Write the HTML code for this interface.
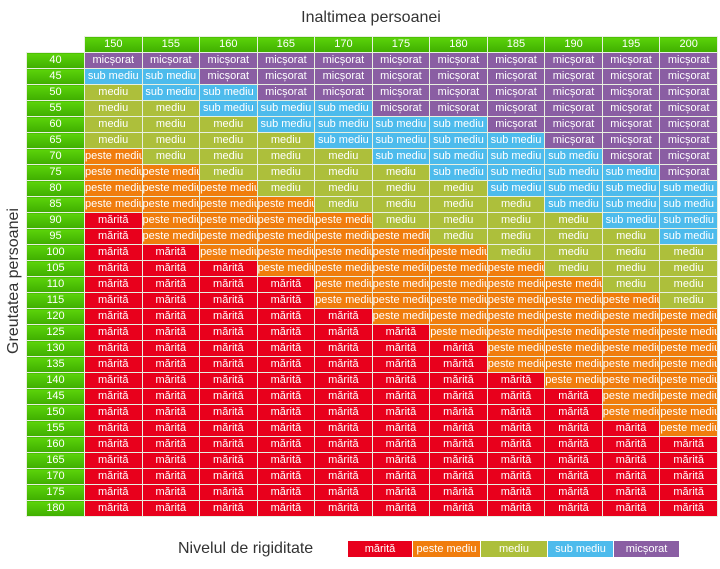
<!DOCTYPE html>
<html><head><meta charset="utf-8"><style>
body{margin:0;width:720px;height:569px;background:#fff;font-family:"Liberation Sans",sans-serif;position:relative;overflow:hidden}
.t{position:absolute;color:#333;font-size:16px}
table{position:absolute;left:26px;top:36px;border-collapse:collapse;table-layout:fixed;width:692px}
td{height:15px;padding:0;border:1px solid #e8f0e0;color:#fff;font-size:11px;text-align:center;white-space:nowrap;overflow:hidden;line-height:15px}
col.a{width:58px}
.h td{background:linear-gradient(#5cd40a,#3fae00);color:#fff}
.h td.e{background:#fff;border-top-color:#fff;border-left-color:#fff}
td.l{background:linear-gradient(#5cd40a,#3fae00)}
.r{background:#e8001c}.o{background:#f07d0d}.m{background:#adbf3b}.s{background:#4dbbec}.p{background:#8a5ea3}
.lg{position:absolute;top:541px;height:16px;line-height:16px;color:#fff;font-size:11px;text-align:center}
</style></head><body>
<div class="t" style="left:0;width:742px;top:9px;text-align:center">Inaltimea persoanei</div>
<div class="t" style="left:-86px;top:272px;width:200px;text-align:center;transform:rotate(-90deg)">Greutatea persoanei</div>
<div class="t" style="left:178px;top:540px">Nivelul de rigiditate</div>
<div class="lg r" style="left:348px;width:64px">mărită</div>
<div class="lg o" style="left:413px;width:67px">peste mediu</div>
<div class="lg m" style="left:481px;width:66px">mediu</div>
<div class="lg s" style="left:548px;width:65px">sub mediu</div>
<div class="lg p" style="left:614px;width:65px">micșorat</div>
<table><colgroup><col class="a"><col><col><col><col><col><col><col><col><col><col><col></colgroup>
<tr class="h"><td class="e"></td><td>150</td><td>155</td><td>160</td><td>165</td><td>170</td><td>175</td><td>180</td><td>185</td><td>190</td><td>195</td><td>200</td></tr>
<tr><td class="l">40</td><td class="p">micșorat</td><td class="p">micșorat</td><td class="p">micșorat</td><td class="p">micșorat</td><td class="p">micșorat</td><td class="p">micșorat</td><td class="p">micșorat</td><td class="p">micșorat</td><td class="p">micșorat</td><td class="p">micșorat</td><td class="p">micșorat</td></tr>
<tr><td class="l">45</td><td class="s">sub mediu</td><td class="s">sub mediu</td><td class="p">micșorat</td><td class="p">micșorat</td><td class="p">micșorat</td><td class="p">micșorat</td><td class="p">micșorat</td><td class="p">micșorat</td><td class="p">micșorat</td><td class="p">micșorat</td><td class="p">micșorat</td></tr>
<tr><td class="l">50</td><td class="m">mediu</td><td class="s">sub mediu</td><td class="s">sub mediu</td><td class="p">micșorat</td><td class="p">micșorat</td><td class="p">micșorat</td><td class="p">micșorat</td><td class="p">micșorat</td><td class="p">micșorat</td><td class="p">micșorat</td><td class="p">micșorat</td></tr>
<tr><td class="l">55</td><td class="m">mediu</td><td class="m">mediu</td><td class="s">sub mediu</td><td class="s">sub mediu</td><td class="s">sub mediu</td><td class="p">micșorat</td><td class="p">micșorat</td><td class="p">micșorat</td><td class="p">micșorat</td><td class="p">micșorat</td><td class="p">micșorat</td></tr>
<tr><td class="l">60</td><td class="m">mediu</td><td class="m">mediu</td><td class="m">mediu</td><td class="s">sub mediu</td><td class="s">sub mediu</td><td class="s">sub mediu</td><td class="s">sub mediu</td><td class="p">micșorat</td><td class="p">micșorat</td><td class="p">micșorat</td><td class="p">micșorat</td></tr>
<tr><td class="l">65</td><td class="m">mediu</td><td class="m">mediu</td><td class="m">mediu</td><td class="m">mediu</td><td class="s">sub mediu</td><td class="s">sub mediu</td><td class="s">sub mediu</td><td class="s">sub mediu</td><td class="p">micșorat</td><td class="p">micșorat</td><td class="p">micșorat</td></tr>
<tr><td class="l">70</td><td class="o">peste mediu</td><td class="m">mediu</td><td class="m">mediu</td><td class="m">mediu</td><td class="m">mediu</td><td class="s">sub mediu</td><td class="s">sub mediu</td><td class="s">sub mediu</td><td class="s">sub mediu</td><td class="p">micșorat</td><td class="p">micșorat</td></tr>
<tr><td class="l">75</td><td class="o">peste mediu</td><td class="o">peste mediu</td><td class="m">mediu</td><td class="m">mediu</td><td class="m">mediu</td><td class="m">mediu</td><td class="s">sub mediu</td><td class="s">sub mediu</td><td class="s">sub mediu</td><td class="s">sub mediu</td><td class="p">micșorat</td></tr>
<tr><td class="l">80</td><td class="o">peste mediu</td><td class="o">peste mediu</td><td class="o">peste mediu</td><td class="m">mediu</td><td class="m">mediu</td><td class="m">mediu</td><td class="m">mediu</td><td class="s">sub mediu</td><td class="s">sub mediu</td><td class="s">sub mediu</td><td class="s">sub mediu</td></tr>
<tr><td class="l">85</td><td class="o">peste mediu</td><td class="o">peste mediu</td><td class="o">peste mediu</td><td class="o">peste mediu</td><td class="m">mediu</td><td class="m">mediu</td><td class="m">mediu</td><td class="m">mediu</td><td class="s">sub mediu</td><td class="s">sub mediu</td><td class="s">sub mediu</td></tr>
<tr><td class="l">90</td><td class="r">mărită</td><td class="o">peste mediu</td><td class="o">peste mediu</td><td class="o">peste mediu</td><td class="o">peste mediu</td><td class="m">mediu</td><td class="m">mediu</td><td class="m">mediu</td><td class="m">mediu</td><td class="s">sub mediu</td><td class="s">sub mediu</td></tr>
<tr><td class="l">95</td><td class="r">mărită</td><td class="o">peste mediu</td><td class="o">peste mediu</td><td class="o">peste mediu</td><td class="o">peste mediu</td><td class="o">peste mediu</td><td class="m">mediu</td><td class="m">mediu</td><td class="m">mediu</td><td class="m">mediu</td><td class="s">sub mediu</td></tr>
<tr><td class="l">100</td><td class="r">mărită</td><td class="r">mărită</td><td class="o">peste mediu</td><td class="o">peste mediu</td><td class="o">peste mediu</td><td class="o">peste mediu</td><td class="o">peste mediu</td><td class="m">mediu</td><td class="m">mediu</td><td class="m">mediu</td><td class="m">mediu</td></tr>
<tr><td class="l">105</td><td class="r">mărită</td><td class="r">mărită</td><td class="r">mărită</td><td class="o">peste mediu</td><td class="o">peste mediu</td><td class="o">peste mediu</td><td class="o">peste mediu</td><td class="o">peste mediu</td><td class="m">mediu</td><td class="m">mediu</td><td class="m">mediu</td></tr>
<tr><td class="l">110</td><td class="r">mărită</td><td class="r">mărită</td><td class="r">mărită</td><td class="r">mărită</td><td class="o">peste mediu</td><td class="o">peste mediu</td><td class="o">peste mediu</td><td class="o">peste mediu</td><td class="o">peste mediu</td><td class="m">mediu</td><td class="m">mediu</td></tr>
<tr><td class="l">115</td><td class="r">mărită</td><td class="r">mărită</td><td class="r">mărită</td><td class="r">mărită</td><td class="o">peste mediu</td><td class="o">peste mediu</td><td class="o">peste mediu</td><td class="o">peste mediu</td><td class="o">peste mediu</td><td class="o">peste mediu</td><td class="m">mediu</td></tr>
<tr><td class="l">120</td><td class="r">mărită</td><td class="r">mărită</td><td class="r">mărită</td><td class="r">mărită</td><td class="r">mărită</td><td class="o">peste mediu</td><td class="o">peste mediu</td><td class="o">peste mediu</td><td class="o">peste mediu</td><td class="o">peste mediu</td><td class="o">peste mediu</td></tr>
<tr><td class="l">125</td><td class="r">mărită</td><td class="r">mărită</td><td class="r">mărită</td><td class="r">mărită</td><td class="r">mărită</td><td class="r">mărită</td><td class="o">peste mediu</td><td class="o">peste mediu</td><td class="o">peste mediu</td><td class="o">peste mediu</td><td class="o">peste mediu</td></tr>
<tr><td class="l">130</td><td class="r">mărită</td><td class="r">mărită</td><td class="r">mărită</td><td class="r">mărită</td><td class="r">mărită</td><td class="r">mărită</td><td class="r">mărită</td><td class="o">peste mediu</td><td class="o">peste mediu</td><td class="o">peste mediu</td><td class="o">peste mediu</td></tr>
<tr><td class="l">135</td><td class="r">mărită</td><td class="r">mărită</td><td class="r">mărită</td><td class="r">mărită</td><td class="r">mărită</td><td class="r">mărită</td><td class="r">mărită</td><td class="o">peste mediu</td><td class="o">peste mediu</td><td class="o">peste mediu</td><td class="o">peste mediu</td></tr>
<tr><td class="l">140</td><td class="r">mărită</td><td class="r">mărită</td><td class="r">mărită</td><td class="r">mărită</td><td class="r">mărită</td><td class="r">mărită</td><td class="r">mărită</td><td class="r">mărită</td><td class="o">peste mediu</td><td class="o">peste mediu</td><td class="o">peste mediu</td></tr>
<tr><td class="l">145</td><td class="r">mărită</td><td class="r">mărită</td><td class="r">mărită</td><td class="r">mărită</td><td class="r">mărită</td><td class="r">mărită</td><td class="r">mărită</td><td class="r">mărită</td><td class="r">mărită</td><td class="o">peste mediu</td><td class="o">peste mediu</td></tr>
<tr><td class="l">150</td><td class="r">mărită</td><td class="r">mărită</td><td class="r">mărită</td><td class="r">mărită</td><td class="r">mărită</td><td class="r">mărită</td><td class="r">mărită</td><td class="r">mărită</td><td class="r">mărită</td><td class="o">peste mediu</td><td class="o">peste mediu</td></tr>
<tr><td class="l">155</td><td class="r">mărită</td><td class="r">mărită</td><td class="r">mărită</td><td class="r">mărită</td><td class="r">mărită</td><td class="r">mărită</td><td class="r">mărită</td><td class="r">mărită</td><td class="r">mărită</td><td class="r">mărită</td><td class="o">peste mediu</td></tr>
<tr><td class="l">160</td><td class="r">mărită</td><td class="r">mărită</td><td class="r">mărită</td><td class="r">mărită</td><td class="r">mărită</td><td class="r">mărită</td><td class="r">mărită</td><td class="r">mărită</td><td class="r">mărită</td><td class="r">mărită</td><td class="r">mărită</td></tr>
<tr><td class="l">165</td><td class="r">mărită</td><td class="r">mărită</td><td class="r">mărită</td><td class="r">mărită</td><td class="r">mărită</td><td class="r">mărită</td><td class="r">mărită</td><td class="r">mărită</td><td class="r">mărită</td><td class="r">mărită</td><td class="r">mărită</td></tr>
<tr><td class="l">170</td><td class="r">mărită</td><td class="r">mărită</td><td class="r">mărită</td><td class="r">mărită</td><td class="r">mărită</td><td class="r">mărită</td><td class="r">mărită</td><td class="r">mărită</td><td class="r">mărită</td><td class="r">mărită</td><td class="r">mărită</td></tr>
<tr><td class="l">175</td><td class="r">mărită</td><td class="r">mărită</td><td class="r">mărită</td><td class="r">mărită</td><td class="r">mărită</td><td class="r">mărită</td><td class="r">mărită</td><td class="r">mărită</td><td class="r">mărită</td><td class="r">mărită</td><td class="r">mărită</td></tr>
<tr><td class="l">180</td><td class="r">mărită</td><td class="r">mărită</td><td class="r">mărită</td><td class="r">mărită</td><td class="r">mărită</td><td class="r">mărită</td><td class="r">mărită</td><td class="r">mărită</td><td class="r">mărită</td><td class="r">mărită</td><td class="r">mărită</td></tr>
</table>
</body></html>
